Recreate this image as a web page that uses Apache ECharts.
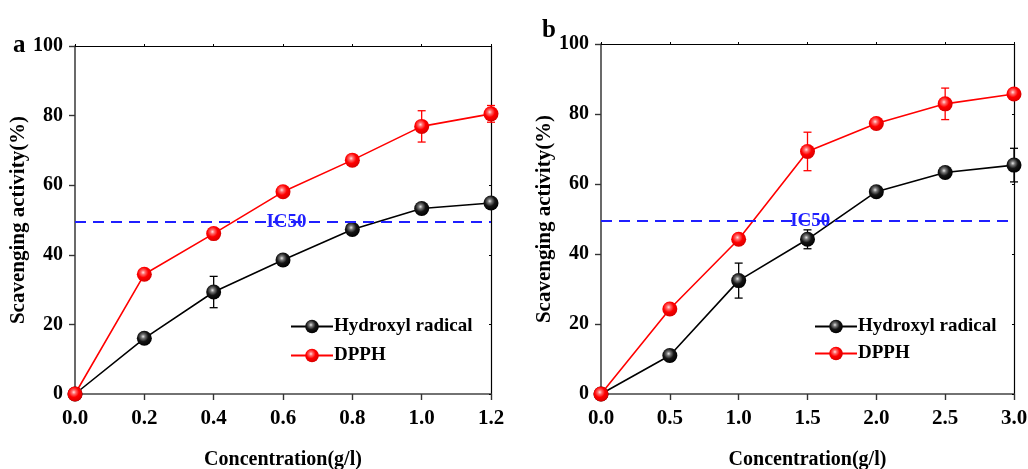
<!DOCTYPE html>
<html>
<head>
<meta charset="utf-8">
<script src="https://cdn.jsdelivr.net/npm/echarts@6/dist/echarts.min.js"></script>
<style>
html,body{margin:0;padding:0;background:#fff;}
#chart{width:1028px;height:469px;}
</style>
</head>
<body>
<div id="chart"></div>
<script>
// ---- data (panel a) ----
const concA = [0, 0.2, 0.4, 0.6, 0.8, 1.0, 1.2];
const hydroxylA = [0, 16.0, 29.3, 38.5, 47.3, 53.3, 54.9];
const hydroxylAErr = [0, 0.6, 4.5, 0.6, 0.6, 0.6, 0.6];
const dpphA = [0, 34.4, 46.1, 58.1, 67.2, 76.9, 80.5];
const dpphAErr = [0, 0.8, 0.8, 0.8, 0.8, 4.5, 2.4];
// ---- data (panel b) ----
const concB = [0, 0.5, 1.0, 1.5, 2.0, 2.5, 3.0];
const hydroxylB = [0, 11.0, 32.4, 44.2, 57.8, 63.3, 65.4];
const hydroxylBErr = [0, 1.6, 5.0, 2.7, 0.8, 0.8, 4.8];
const dpphB = [0, 24.3, 44.2, 69.3, 77.3, 82.9, 85.7];
const dpphBErr = [0, 0.8, 0.8, 5.5, 0.8, 4.5, 0.8];
// ---- reference line ----
const ic50 = 49.5;
const ic50LabelXA = 0.61;
const ic50LabelXB = 1.52;
const seriesNames = ['Hydroxyl radical', 'DPPH'];

const FONT = "'Liberation Serif', 'Times New Roman', serif";

const blackBall = {type:'radial', x:0.42, y:0.38, r:0.62, colorStops:[
  {offset:0, color:'#e8e8e8'}, {offset:0.22, color:'#777'}, {offset:0.55, color:'#151515'}, {offset:1, color:'#000'}]};
const redBall = {type:'radial', x:0.42, y:0.38, r:0.62, colorStops:[
  {offset:0, color:'#ffe0e0'}, {offset:0.22, color:'#ff6a6a'}, {offset:0.55, color:'#ff0000'}, {offset:1, color:'#d80000'}]};

function pairs(xs, ys){ return xs.map((x,i)=>[x, ys[i]]); }
function errData(xs, ys, es){ return xs.map((x,i)=>[x, ys[i]-es[i], ys[i]+es[i]]); }

function lineSeries(name, xs, ys, color, ball, idx){
  return {
    name, type:'line', xAxisIndex:idx, yAxisIndex:idx,
    data: pairs(xs, ys), symbol:'circle', symbolSize:15,
    lineStyle:{color, width:1.6}, itemStyle:{color: ball, borderWidth:0},
    z:3, animation:false, emphasis:{disabled:true}
  };
}
function errSeries(xs, ys, es, color, idx){
  return {
    type:'custom', xAxisIndex:idx, yAxisIndex:idx, data: errData(xs, ys, es),
    encode:{x:0, y:[1,2]}, z:2, animation:false, silent:true,
    renderItem(params, api){
      const x = api.value(0);
      const lo = api.coord([x, api.value(1)]);
      const hi = api.coord([x, api.value(2)]);
      const w = 4;
      const st = {stroke:color, lineWidth:1.3};
      return {type:'group', children:[
        {type:'line', shape:{x1:lo[0], y1:lo[1], x2:hi[0], y2:hi[1]}, style:st},
        {type:'line', shape:{x1:lo[0]-w, y1:lo[1], x2:lo[0]+w, y2:lo[1]}, style:st},
        {type:'line', shape:{x1:hi[0]-w, y1:hi[1], x2:hi[0]+w, y2:hi[1]}, style:st}
      ]};
    }
  };
}
function ic50Series(xLabel, idx){
  return {
    type:'line', xAxisIndex:idx, yAxisIndex:idx, data:[], silent:true, animation:false,
    markLine:{symbol:['none','none'], silent:true, animation:false,
      lineStyle:{color:'#1f1fff', type:[11,7], width:2},
      label:{show:false}, data:[{yAxis:ic50}]},
    markPoint:{symbol:'circle', symbolSize:0, silent:true, animation:false,
      label:{show:true, position:'inside', formatter:'IC50', color:'#1f1fff',
        fontFamily:FONT, fontWeight:'bold', fontSize:19},
      data:[{coord:[xLabel, ic50]}]}
  };
}

function bottomX(idx, max, interval, decimals){
  return {gridIndex:idx, type:'value', min:0, max, interval, position:'bottom',
    axisLine:{show:true, onZero:false, lineStyle:{color:'#444', width:1.6}},
    axisTick:{show:true, inside:false, length:6, lineStyle:{color:'#333', width:1.4}},
    axisLabel:{margin:14, color:'#000', fontFamily:FONT, fontWeight:'bold', fontSize:21,
      formatter:v=>v.toFixed(decimals)},
    splitLine:{show:false},
    name:'Concentration(g/l)', nameLocation:'middle', nameGap:56,
    nameTextStyle:{color:'#000', fontFamily:FONT, fontWeight:'bold', fontSize:20}};
}
function topX(idx, max, interval){
  return {gridIndex:idx, type:'value', min:0, max, interval, position:'top',
    axisLine:{show:true, onZero:false, lineStyle:{color:'#000', width:1.2}},
    axisTick:{show:true, inside:false, length:2, lineStyle:{color:'#000'}},
    axisLabel:{show:false}, splitLine:{show:false}};
}
function leftY(idx, gap){
  return {gridIndex:idx, type:'value', min:0, max:100, interval:20, position:'left',
    axisLine:{show:true, onZero:false, lineStyle:{color:'#444', width:1.6}},
    axisTick:{show:true, inside:false, length:6, lineStyle:{color:'#333', width:1.4}},
    axisLabel:{margin:12, color:'#000', fontFamily:FONT, fontWeight:'bold', fontSize:20},
    splitLine:{show:false},
    name:'Scavenging activity(%)', nameLocation:'middle', nameGap:gap,
    nameTextStyle:{color:'#000', fontFamily:FONT, fontWeight:'bold', fontSize:21}};
}
function rightY(idx){
  return {gridIndex:idx, type:'value', min:0, max:100, interval:20, position:'right',
    axisLine:{show:true, onZero:false, lineStyle:{color:'#000', width:1.2}},
    axisTick:{show:true, inside:true, length:2, lineStyle:{color:'#000'}},
    axisLabel:{show:false}, splitLine:{show:false}};
}
function legend(left, top, gap){
  return {show:true, orient:'vertical', left, top, itemWidth:42, itemHeight:17, itemGap:gap,
    data:seriesNames, selectedMode:false,
    textStyle:{color:'#000', fontFamily:FONT, fontWeight:'bold', fontSize:19, padding:[0,0,0,-4]}};
}

const chart = echarts.init(document.getElementById('chart'), null, {renderer:'canvas'});
chart.setOption({
  backgroundColor:'#fff',
  animation:false,
  title:[
    {text:'a', left:13, top:33, padding:0, textStyle:{fontFamily:FONT, fontWeight:'bold', fontSize:25, color:'#000'}},
    {text:'b', left:542, top:18, padding:0, textStyle:{fontFamily:FONT, fontWeight:'bold', fontSize:25, color:'#000'}}
  ],
  grid:[
    {left:75, right:537, top:46, bottom:75, outerBoundsMode:'none', containLabel:false},
    {left:601, right:14, top:44, bottom:75, outerBoundsMode:'none', containLabel:false}
  ],
  legend:[legend(285, 312, 10), legend(809, 312, 8)],
  xAxis:[bottomX(0, 1.2, 0.2, 1), bottomX(1, 3, 0.5, 1), topX(0, 1.2, 0.2), topX(1, 3, 0.5)],
  yAxis:[leftY(0, 40), leftY(1, 41), rightY(0), rightY(1)],
  series:[
    ic50Series(ic50LabelXA, 0),
    ic50Series(ic50LabelXB, 1),
    errSeries(concA, hydroxylA, hydroxylAErr, '#000', 0),
    errSeries(concA, dpphA, dpphAErr, '#ff0000', 0),
    errSeries(concB, hydroxylB, hydroxylBErr, '#000', 1),
    errSeries(concB, dpphB, dpphBErr, '#ff0000', 1),
    lineSeries(seriesNames[0], concA, hydroxylA, '#000', blackBall, 0),
    lineSeries(seriesNames[1], concA, dpphA, '#ff0000', redBall, 0),
    lineSeries(seriesNames[0], concB, hydroxylB, '#000', blackBall, 1),
    lineSeries(seriesNames[1], concB, dpphB, '#ff0000', redBall, 1)
  ]
});
</script>
</body>
</html>
